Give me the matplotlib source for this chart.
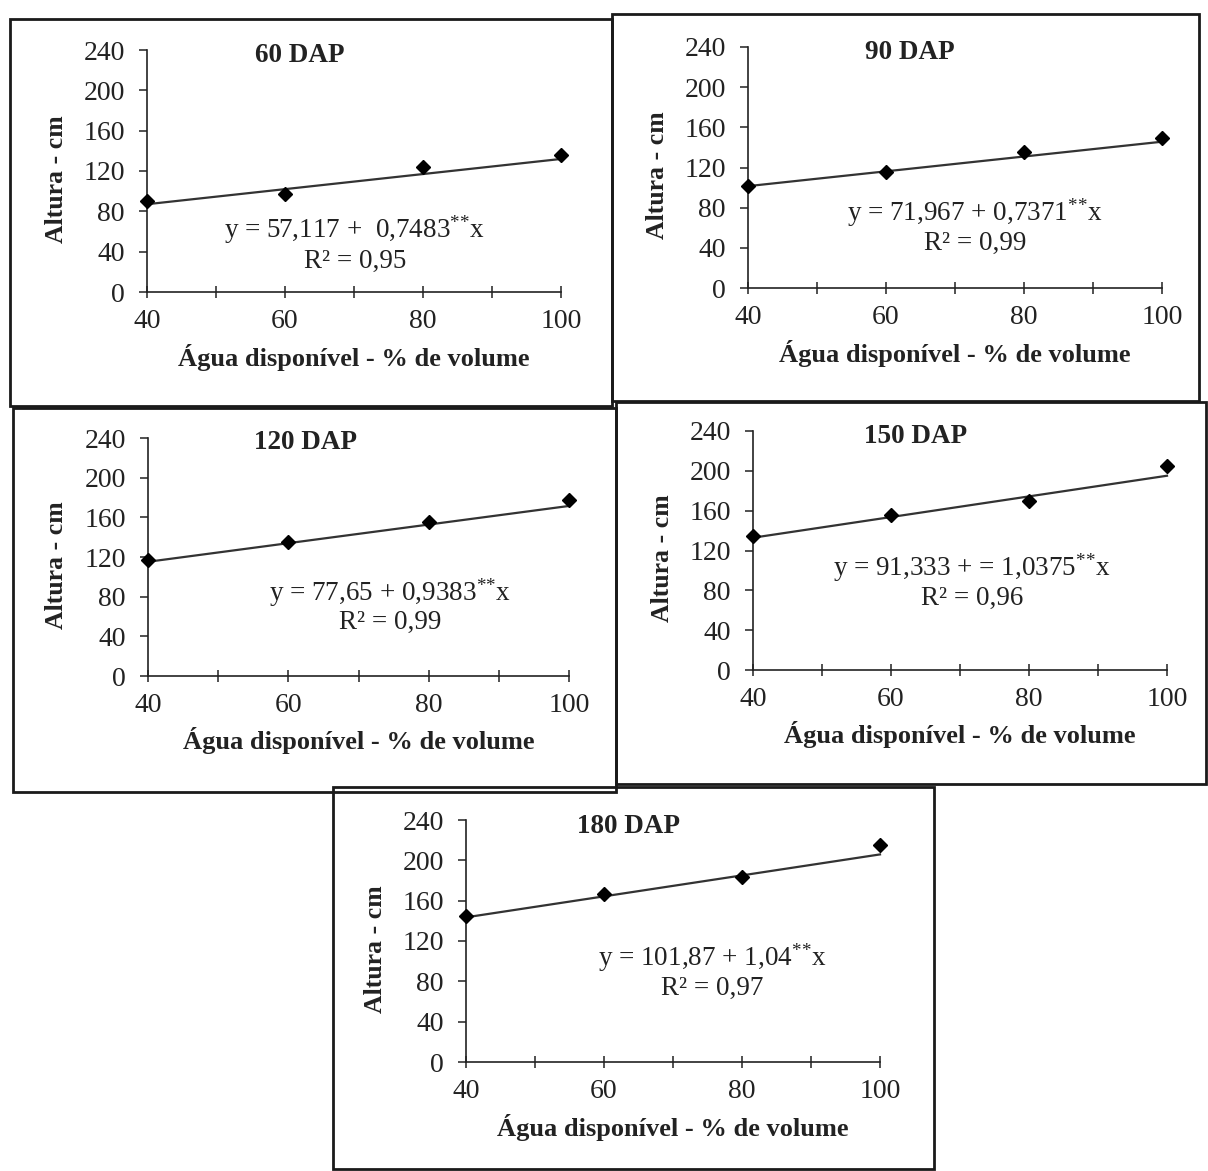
import matplotlib
matplotlib.use("Agg")
import matplotlib.pyplot as plt
from matplotlib.patches import Rectangle
import numpy as np

plt.rcParams['font.family'] = ['Liberation Serif', 'DejaVu Serif']
plt.rcParams['mathtext.fontset'] = 'custom'
plt.rcParams['mathtext.rm'] = 'Liberation Serif'
plt.rcParams['mathtext.it'] = 'Liberation Serif:italic'

# ---- data ----
agua = [40, 60, 80, 100]
titles = ["60 DAP", "90 DAP", "120 DAP", "150 DAP", "180 DAP"]
altura_60 = [90, 97, 124, 136]
altura_90 = [102, 116, 135, 149]
altura_120 = [117, 135, 155, 177]
altura_150 = [135, 156, 170, 205]
altura_180 = [145, 167, 183, 215]
intercepts = [57.117, 71.967, 77.65, 91.333, 101.87]
slopes = [0.7483, 0.7371, 0.9383, 1.0375, 1.04]
equations = [
    "y = 57,117 +  0,7483$^{{*}{*}}$x",
    "y = 71,967 + 0,7371$^{{*}{*}}$x",
    "y = 77,65 + 0,9383$^{{*}{*}}$x",
    "y = 91,333 + = 1,0375$^{{*}{*}}$x",
    "y = 101,87 + 1,04$^{{*}{*}}$x",
]
r2_labels = ["R² = 0,95", "R² = 0,99", "R² = 0,99", "R² = 0,96", "R² = 0,97"]
series = [altura_60, altura_90, altura_120, altura_150, altura_180]
xlabel = "Água disponível - % de volume"
ylabel = "Altura - cm"
yticks = [0, 40, 80, 120, 160, 200, 240]
xticklabels = [40, 60, 80, 100]

# ---- layout (pixels) ----
W, H = 1208, 1171
fig = plt.figure(figsize=(W / 100, H / 100), dpi=100)
fig.patch.set_facecolor('white')

# axes: (x_at_40, x_at_100, y_at_240, y_at_0)
axes_px = [
    (147, 561, 50, 292),
    (748, 1162, 47, 288),
    (148, 569, 438, 676),
    (753, 1167, 431, 670),
    (466, 880, 820, 1062),
]
# panel boxes: (left, top, right, bottom)
boxes_px = [
    (10, 19, 612, 406),
    (612, 14, 1199, 401),
    (13, 408, 616, 792),
    (616, 402, 1206, 784),
    (333, 787, 934, 1169),
]
# text positions in data coords: title, equation, r2
title_pos = [(62.2, 235), (63.5, 235), (62.4, 235), (63.5, 234), (63.5, 234)]
eq_pos = [(70.1, 61.5), (72.9, 74.7), (74.5, 83.7), (71.7, 102.4), (75.7, 103)]
r2_pos = [(70.1, 30.7), (72.9, 44.8), (74.5, 54.4), (71.7, 72.3), (75.7, 73)]

for (l, t, r, b) in boxes_px:
    fig.patches.append(Rectangle((l / W, 1 - b / H), (r - l) / W, (b - t) / H,
                                 transform=fig.transFigure, fill=False,
                                 edgecolor='#1a1a1a', linewidth=2.0))

for i, (x0, x1, yt, yb) in enumerate(axes_px):
    ax = fig.add_axes([x0 / W, 1 - yb / H, (x1 - x0) / W, (yb - yt) / H])
    ax.set_xlim(40, 100)
    ax.set_ylim(0, 240)
    ax.patch.set_alpha(0)
    for s in ['top', 'right']:
        ax.spines[s].set_visible(False)
    for s in ['left', 'bottom']:
        ax.spines[s].set_linewidth(1.2)
        ax.spines[s].set_color('#222222')
        ax.spines[s].set_clip_on(False)

    xs = np.array(agua, dtype=float)
    ax.plot(xs, intercepts[i] + slopes[i] * xs, color='#333333', lw=1.6,
            clip_on=False)
    ax.plot(agua, series[i], linestyle='none', marker='D', markersize=7,
            color='black', clip_on=False, zorder=5)

    ax.set_yticks(yticks)
    ax.set_xticks(np.arange(40, 101, 10))
    ax.set_xticklabels([str(v) if v in xticklabels else '' for v in range(40, 101, 10)])
    ax.tick_params(axis='both', labelsize=20, colors='#222222', labelcolor='#222222')
    ax.tick_params(axis='y', direction='out', length=6, width=1.1, pad=10)
    ax.tick_params(axis='x', direction='inout', length=8, width=1.1, pad=8)

    ax.set_xlabel(xlabel, fontsize=19, fontweight='bold', color='#222222')
    ax.xaxis.set_label_coords(0.5, -0.215)
    ax.set_ylabel(ylabel, fontsize=18.5, fontweight='bold', color='#222222')
    ax.yaxis.set_label_coords(-0.19, 0.467)

    ax.text(*title_pos[i], titles[i], fontsize=19.5, fontweight='bold',
            ha='center', va='center', color='#222222')
    ax.text(*eq_pos[i], equations[i], fontsize=19.5, ha='center', va='center',
            color='#222222')
    ax.text(*r2_pos[i], r2_labels[i], fontsize=19.5, ha='center', va='center',
            color='#222222')

fig.savefig("out.png", dpi=100, facecolor='white')
